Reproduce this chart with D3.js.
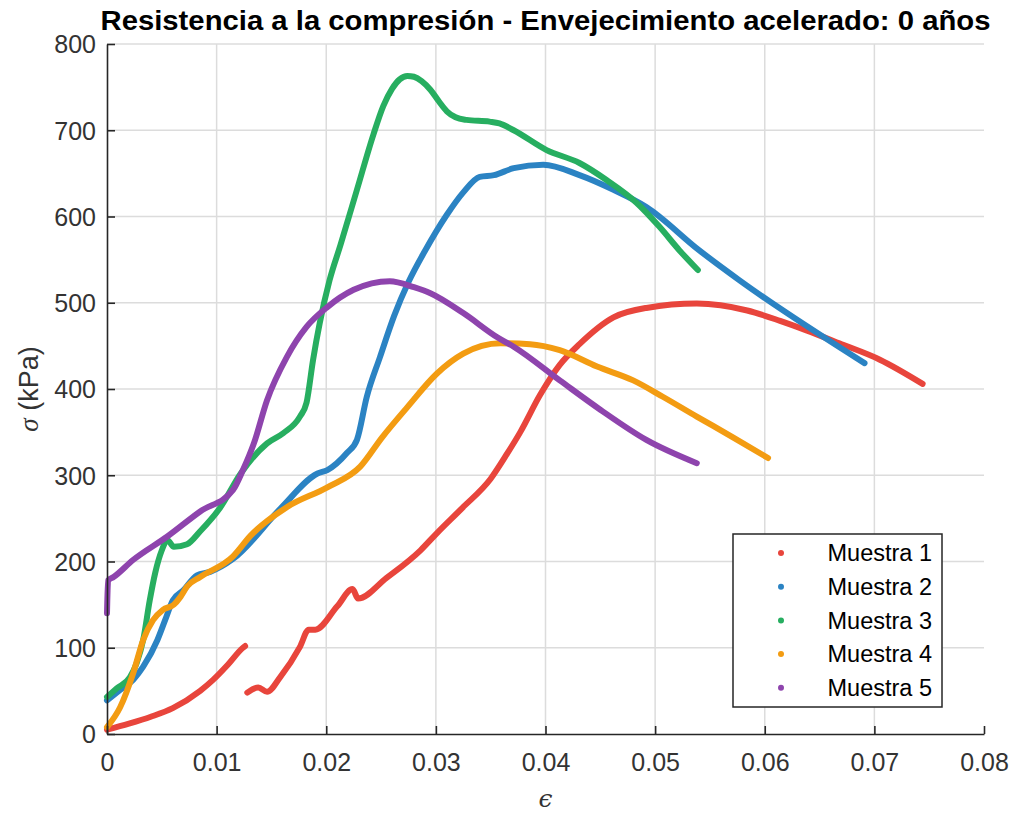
<!DOCTYPE html>
<html><head><meta charset="utf-8">
<script src="https://cdn.jsdelivr.net/npm/d3@7"></script>
<style>body{margin:0;background:#fff}svg{display:block}</style>
</head><body>
<svg id="c" width="1016" height="816"></svg>
<script>
const seriesNames = ["Muestra 1","Muestra 2","Muestra 3","Muestra 4","Muestra 5"];
const seriesColors = ["#e8453c","#2b83c3","#27ae60","#f39c12","#8e44ad"];
const xTicks = [0,0.01,0.02,0.03,0.04,0.05,0.06,0.07,0.08];
const yTicks = [0,100,200,300,400,500,600,700,800];

// Muestra 1 (two segments)
const m1a = [[0,5],[0.002,12],[0.004,20],[0.006,30],[0.0085,50],[0.0097,63],[0.011,80],[0.0124,100],[0.0126,102]];
const m1b = [[0.0128,48],[0.0138,54],[0.0146,49],[0.0158,66],[0.0176,101],[0.0184,121],[0.019,121],[0.021,148],[0.0224,168],[0.0229,157],
  [0.0255,181],[0.0286,213],[0.0301,233],[0.0324,262],[0.035,296],[0.0365,325],[0.0377,350],[0.0395,393],[0.0413,428],[0.0431,452],[0.0462,483],
  [0.0492,494],[0.0538,499],[0.0584,491],[0.0614,479],[0.0638,468],[0.0668,453],[0.0705,434],[0.0744,406]];
// Muestra 2
const m2 = [[0,39],[0.0012,51],[0.0024,63],[0.0033,78],[0.0046,109],[0.0053,132],[0.006,155],[0.007,167],[0.0082,184],[0.0094,188],
  [0.0115,203],[0.0158,261],[0.0192,302],[0.0201,306],[0.0219,326],[0.0228,341],[0.0237,391],[0.0249,437],[0.0262,485],[0.0275,524],[0.029,560],
  [0.031,602],[0.0325,628],[0.034,646],[0.0353,648],[0.0371,656],[0.0398,660],[0.0431,648],[0.0462,631],[0.0492,611],[0.054,561],[0.0577,526],[0.0691,430]];
// Muestra 3
const m3 = [[0,43],[0.0009,53],[0.0021,66],[0.0027,82],[0.0033,109],[0.0039,155],[0.0044,187],[0.005,213],[0.0055,225],[0.0061,217],
  [0.0073,220],[0.0085,235],[0.0103,262],[0.0122,302],[0.0146,337],[0.0161,349],[0.0176,368],[0.0182,384],[0.0188,434],[0.0194,476],
  [0.0203,526],[0.0213,567],[0.0228,631],[0.0243,695],[0.0252,728],[0.026,748],[0.0267,759],[0.0274,763],[0.028,762],[0.0287,757],
  [0.0295,747],[0.0303,733],[0.031,722],[0.0318,715],[0.0328,712],
  [0.0349,710],[0.0358,708],[0.0371,700],[0.0401,677],[0.0431,662],[0.0456,642],[0.0483,616],[0.0504,588],[0.0522,561],[0.0539,538]];
// Muestra 4
const m4 = [[0,8],[0.0012,31],[0.0024,71],[0.0033,109],[0.0042,132],[0.0051,144],[0.0061,150],[0.0067,159],[0.0073,171],[0.0085,182],
  [0.0115,206],[0.0131,230],[0.0164,263],[0.0201,286],[0.0231,310],[0.0251,344],[0.0274,379],[0.0301,418],[0.0325,441],[0.0359,453],
  [0.0386,452],[0.0413,445],[0.0447,426],[0.048,410],[0.0507,391],[0.0538,368],[0.0571,344],[0.0603,320]];
// Muestra 5
const m5 = [[0,140],[0.0001,178],[0.0006,182],[0.0024,202],[0.0055,229],[0.0085,258],[0.0115,283],[0.0124,306],[0.0134,337],[0.0146,387],
  [0.0164,437],[0.0182,472],[0.0201,495],[0.0225,515],[0.0258,525],[0.028,518],[0.0295,511],[0.0325,488],[0.0356,460],[0.0371,449],
  [0.0413,410],[0.045,376],[0.0492,341],[0.0538,314]];

const seriesData = [[m1a,m1b],[m2],[m3],[m4],[m5]];

const svg = d3.select("#c");
const L=107, R=984, T=44, B=734;
const x = d3.scaleLinear().domain([0,0.08]).range([L,R]);
const y = d3.scaleLinear().domain([0,800]).range([B,T]);
const axisCol = "#262626";
const font = "'Liberation Sans', Arial, Helvetica, sans-serif";

// grid
const g = svg.append("g");
g.selectAll(".gx").data(xTicks.filter(d=>d>0 && d<0.08)).join("line")
  .attr("x1",d=>x(d)).attr("x2",d=>x(d)).attr("y1",T).attr("y2",B)
  .attr("stroke","#dcdcdc").attr("stroke-width",1.5);
g.selectAll(".gy").data(yTicks.filter(d=>d>0)).join("line")
  .attr("x1",L).attr("x2",R).attr("y1",d=>y(d)).attr("y2",d=>y(d))
  .attr("stroke","#dcdcdc").attr("stroke-width",1.5);

// curves
const line = d3.line().x(d=>x(d[0])).y(d=>y(d[1])).curve(d3.curveMonotoneX);
seriesData.forEach((segs,i)=>{
  segs.forEach(seg=>{
    svg.append("path").attr("d",line(seg)).attr("fill","none")
      .attr("stroke",seriesColors[i]).attr("stroke-width",6)
      .attr("stroke-linecap","round").attr("stroke-linejoin","round");
  });
});

// axes
const xa = svg.append("g").attr("transform",`translate(0,${B})`)
  .call(d3.axisBottom(x).tickValues(xTicks).tickFormat(d=>d===0?"0":d3.format(".2f")(d)).tickSizeInner(-8).tickSizeOuter(0).tickPadding(19));
const ya = svg.append("g").attr("transform",`translate(${L},0)`)
  .call(d3.axisLeft(y).tickValues(yTicks).tickSizeInner(-8).tickSizeOuter(0).tickPadding(11));
[xa,ya].forEach(a=>{
  a.select(".domain").attr("stroke",axisCol).attr("stroke-width",1.6);
  a.selectAll(".tick line").attr("stroke",axisCol).attr("stroke-width",1.6);
  a.selectAll(".tick text").attr("fill","#333").style("font-family",font).style("font-size","25px");
});
xa.selectAll(".tick text").attr("dy","0.71em");
ya.selectAll(".tick text").attr("dy","0.35em");

// title
svg.append("text").attr("x",(L+R)/2).attr("y",30).attr("text-anchor","middle")
  .attr("textLength",890).attr("lengthAdjust","spacingAndGlyphs")
  .style("font-family",font).style("font-weight","bold").style("font-size","27px")
  .attr("fill","#000").text("Resistencia a la compresión - Envejecimiento acelerado: 0 años");

// axis labels
svg.append("text").attr("x",(L+R)/2).attr("y",807).attr("text-anchor","middle")
  .style("font-family","'DejaVu Serif', 'Liberation Serif', serif").style("font-style","italic").style("font-size","25px")
  .attr("fill","#333").text("ϵ");
const yl = svg.append("text").attr("transform",`translate(38,${(T+B)/2}) rotate(-90)`).attr("text-anchor","middle")
  .style("font-family",font).style("font-size","27px").attr("fill","#333");
yl.append("tspan").style("font-family","'Liberation Serif', serif").style("font-style","italic").text("σ");
yl.append("tspan").text(" (kPa)");

// legend
const lg = svg.append("g");
lg.append("rect").attr("x",733).attr("y",534).attr("width",209).attr("height",173)
  .attr("fill","#fff").attr("stroke",axisCol).attr("stroke-width",1.5);
seriesNames.forEach((n,i)=>{
  const yy = 553 + i*33.7;
  lg.append("circle").attr("cx",781).attr("cy",yy).attr("r",3).attr("fill",seriesColors[i]);
  lg.append("text").attr("x",932).attr("y",yy).attr("dy","0.35em").attr("text-anchor","end")
    .style("font-family",font).style("font-size","23.5px").attr("fill","#000").text(n);
});
</script>
</body></html>
